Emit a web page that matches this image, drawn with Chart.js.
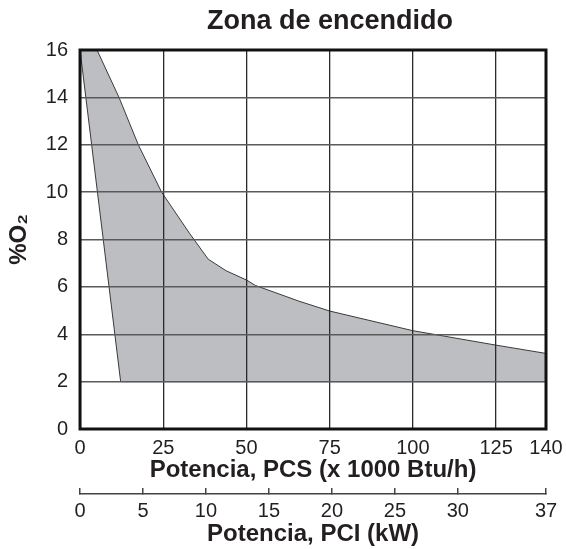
<!DOCTYPE html>
<html>
<head>
<meta charset="utf-8">
<script src="https://cdn.jsdelivr.net/npm/chart.js@4.4.0/dist/chart.umd.min.js"></script>
<style>
  html, body { margin: 0; padding: 0; background: #fff; }
</style>
</head>
<body>
<canvas id="miCanvas" width="566" height="549"></canvas>
<script>
// borde superior de la zona de encendido (PCS x1000 Btu/h, %O2)
const upperX = [0, 5.1, 11.7, 17.5, 24.5, 32.9, 38.5, 43.9, 50, 52.7, 65.7, 75, 100, 125, 140];
const upperY = [16, 16, 14, 12, 10, 8.26, 7.17, 6.68, 6.29, 6.06, 5.4, 4.98, 4.15, 3.54, 3.19];
// borde inferior, recorrido de vuelta
const lowerX = [140, 12.2, 0];
const lowerY = [2, 2, 16];

const pcsTicks = [0, 25, 50, 75, 100, 125, 140];
const pciTicks = [0, 5, 10, 15, 20, 25, 30, 37];
const o2Ticks = [0, 2, 4, 6, 8, 10, 12, 14, 16];

const FONT = "'Liberation Sans', Arial, sans-serif";
const INK = '#231f20';

const zona = upperX.map((x, i) => ({ x: x, y: upperY[i] }))
    .concat(lowerX.map((x, i) => ({ x: x, y: lowerY[i] })));

const setTicks = (list) => (axis) => {
    axis.ticks = list.map(v => ({ value: v }));
};
// margen derecho fijo para la etiqueta "140"
const fixPadding = (axis) => {
    axis.paddingLeft = 0;
    axis.paddingRight = 20;
};

const tickFont = { family: FONT, size: 20, lineHeight: 1 };
const titleFont = { family: FONT, size: 24, weight: 'bold', lineHeight: 1 };

// titulo y marco del grafico
const marcoPlugin = {
    id: 'marcoZona',
    afterDraw(chart) {
        const ctx = chart.ctx;
        const a = chart.chartArea;
        ctx.save();
        ctx.strokeStyle = '#111';
        ctx.lineWidth = 3;
        ctx.strokeRect(a.left, a.top, a.right - a.left, a.bottom - a.top);
        ctx.font = "bold 27px " + FONT;
        ctx.fillStyle = INK;
        ctx.textAlign = 'center';
        ctx.textBaseline = 'middle';
        ctx.fillText('Zona de encendido', (a.left + a.right) / 2 + 17, 22);
        ctx.restore();
    }
};

const ctx = document.getElementById('miCanvas').getContext('2d');
new Chart(ctx, {
    type: 'scatter',
    data: {
        datasets: [{
            data: zona,
            showLine: true,
            fill: 'shape',
            backgroundColor: '#bdbec2',
            borderColor: '#3a3a3a',
            borderWidth: 1,
            pointRadius: 0,
            tension: 0
        }]
    },
    plugins: [marcoPlugin],
    options: {
        responsive: false,
        animation: false,
        devicePixelRatio: 1,
        layout: { padding: { top: 50, right: 0, left: 0, bottom: 0 } },
        plugins: {
            legend: { display: false },
            tooltip: { enabled: false }
        },
        scales: {
            x: {
                type: 'linear',
                position: 'bottom',
                weight: 0,
                min: 0,
                max: 140,
                afterBuildTicks: setTicks(pcsTicks),
                afterFit: fixPadding,
                grid: { color: '#2a2a2a', lineWidth: 1.3, drawTicks: false, z: 1 },
                border: { display: false },
                ticks: { color: INK, font: tickFont, padding: 9, maxRotation: 0 },
                title: {
                    display: true,
                    text: 'Potencia, PCS (x 1000 Btu/h)',
                    color: INK,
                    font: titleFont,
                    padding: { top: -9, bottom: 12 }
                }
            },
            x2: {
                type: 'linear',
                position: 'bottom',
                weight: 1,
                min: 0,
                max: 37,
                afterBuildTicks: setTicks(pciTicks),
                afterFit: fixPadding,
                grid: { drawOnChartArea: false, color: '#444', lineWidth: 1.5, tickLength: -6 },
                border: { color: '#444', width: 1.5 },
                ticks: { color: INK, font: tickFont, padding: 13, maxRotation: 0 },
                title: {
                    display: true,
                    text: 'Potencia, PCI (kW)',
                    color: INK,
                    font: titleFont,
                    padding: { top: -12, bottom: 3 }
                }
            },
            y: {
                type: 'linear',
                min: 0,
                max: 16,
                afterBuildTicks: setTicks(o2Ticks),
                grid: { color: '#5a5a5a', lineWidth: 1.5, drawTicks: false, z: 1 },
                border: { display: false },
                ticks: { color: INK, font: tickFont, padding: 12 },
                title: {
                    display: true,
                    text: '%O₂',
                    color: INK,
                    font: { family: FONT, size: 24, weight: 'bold' },
                    padding: { top: 5, bottom: 0 }
                }
            }
        }
    }
});
</script>
</body>
</html>
